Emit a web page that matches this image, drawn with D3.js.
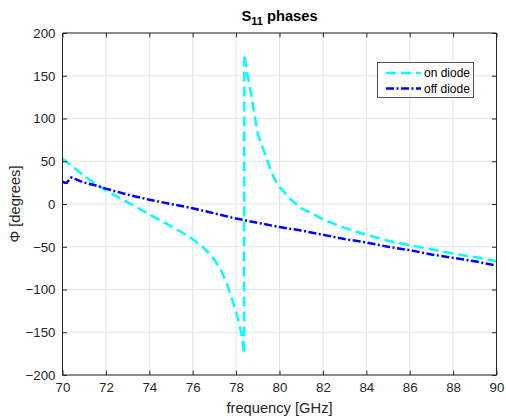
<!DOCTYPE html>
<html>
<head>
<meta charset="utf-8">
<script src="https://cdn.jsdelivr.net/npm/d3@7"></script>
<style>
  html, body { margin: 0; padding: 0; background: #ffffff; }
  svg { display: block; font-family: "Liberation Sans", Arial, sans-serif; }
</style>
</head>
<body>
<svg id="chart" width="506" height="420"></svg>
<script>
// ---- data ----
const freqOn  = [70, 70.5, 71, 71.5, 72, 72.5, 73, 73.5, 74, 74.5, 75, 75.5, 76, 76.5, 77, 77.3, 77.6, 77.9, 78.1, 78.25, 78.37,
                 78.38, 78.45, 78.55, 78.7, 78.85, 79.0, 79.2, 79.4, 79.6, 79.8, 80, 80.5, 81, 81.5, 82, 83, 84, 85, 86, 87, 88, 89, 90];
const phaseOn = [53, 43, 33, 24, 16, 9, 2, -5, -12, -19, -26, -33, -41, -51, -65, -77, -95, -118, -136, -152, -175,
                 175, 163, 148, 128, 104, 82, 68, 54, 39, 28, 20, 6, -5, -11, -18, -28, -36, -43, -48, -53, -58, -62, -67];
const freqOff  = [70, 70.1, 70.2, 70.3, 70.4, 70.6, 71, 71.5, 72, 73, 74, 75, 76, 77, 78, 79, 80, 81, 82, 83, 84, 85, 86, 87, 88, 89, 90];
const phaseOff = [26, 25, 25, 28, 31, 29, 25, 22, 18, 11, 5, 0, -5, -11, -17, -22, -27, -31, -36, -41, -45, -50, -54, -59, -63, -67, -72];
const xTicks = [70, 72, 74, 76, 78, 80, 82, 84, 86, 88, 90];
const yTicks = [-200, -150, -100, -50, 0, 50, 100, 150, 200];
const seriesNames = ["on diode", "off diode"];

// ---- layout ----
const svg = d3.select("#chart");
const L = 62.5, R = 496.5, T = 33, B = 375;
const x = d3.scaleLinear().domain([70, 90]).range([L, R]);
const y = d3.scaleLinear().domain([-200, 200]).range([B, T]);
const axisCol = "#262626", textCol = "#262626", gridCol = "#e3e3e3";

// grid
const g = svg.append("g");
g.selectAll("line.gx").data(xTicks).join("line")
  .attr("x1", d => x(d)).attr("x2", d => x(d)).attr("y1", T).attr("y2", B)
  .attr("stroke", gridCol).attr("stroke-width", 1);
g.selectAll("line.gy").data(yTicks).join("line")
  .attr("x1", L).attr("x2", R).attr("y1", d => y(d)).attr("y2", d => y(d))
  .attr("stroke", gridCol).attr("stroke-width", 1);

// clip
svg.append("clipPath").attr("id", "clip").append("rect")
  .attr("x", L).attr("y", T - 2).attr("width", R - L).attr("height", B - T + 4);

const line = d3.line().x(d => x(d[0])).y(d => y(d[1]));
const dataOn = freqOn.map((f, i) => [f, phaseOn[i]]);
const dataOff = freqOff.map((f, i) => [f, phaseOff[i]]);

const plot = svg.append("g").attr("clip-path", "url(#clip)");
plot.append("path").datum(dataOn).attr("d", line)
  .attr("fill", "none").attr("stroke", "#00ffff").attr("stroke-width", 2.5)
  .attr("stroke-dasharray", "10,5");
plot.append("path").datum(dataOff).attr("d", line)
  .attr("fill", "none").attr("stroke", "#0000ff").attr("stroke-width", 2.5)
  .attr("stroke-dasharray", "8,2.5,2,2.5");

// axes (MATLAB-like: ticks inward, box)
const tickLen = 4.5;
const xAxisB = d3.axisBottom(x).tickValues(xTicks).tickSize(-tickLen).tickPadding(8).tickFormat(d3.format("d"));
const xAxisT = d3.axisTop(x).tickValues(xTicks).tickSize(-tickLen).tickFormat("");
const yAxisL = d3.axisLeft(y).tickValues(yTicks).tickSize(-tickLen).tickPadding(7).tickFormat(d3.format("d"));
const yAxisR = d3.axisRight(y).tickValues(yTicks).tickSize(-tickLen).tickFormat("");

function style(sel) {
  sel.select(".domain").attr("stroke", axisCol).attr("stroke-width", 1);
  sel.selectAll(".tick line").attr("stroke", axisCol).attr("stroke-width", 1);
  sel.selectAll(".tick text").attr("fill", textCol).style("font-size", "13.3px")
     .style("font-family", "'Liberation Sans', Arial, sans-serif");
}
svg.append("g").attr("transform", `translate(0,${B})`).call(xAxisB).call(style)
  .call(s => s.select(".domain").attr("d", `M${L},0H${R}`));
svg.append("g").attr("transform", `translate(0,${T})`).call(xAxisT).call(style)
  .call(s => s.select(".domain").attr("d", `M${L},0H${R}`));
svg.append("g").attr("transform", `translate(${L},0)`).call(yAxisL).call(style)
  .call(s => s.select(".domain").attr("d", `M0,${T}V${B}`));
svg.append("g").attr("transform", `translate(${R},0)`).call(yAxisR).call(style)
  .call(s => s.select(".domain").attr("d", `M0,${T}V${B}`));

// labels
svg.append("text").attr("x", (L + R) / 2).attr("y", 413).attr("text-anchor", "middle")
  .attr("fill", textCol).style("font-size", "14.7px").text("frequency [GHz]");
svg.append("text").attr("transform", `translate(20,${(T + B) / 2}) rotate(-90)`)
  .attr("text-anchor", "middle").attr("fill", textCol).style("font-size", "14.7px")
  .text("Φ [degrees]");
const title = svg.append("text").attr("x", (L + R) / 2).attr("y", 21).attr("text-anchor", "middle")
  .attr("fill", "#000").style("font-size", "14.7px").style("font-weight", "bold");
title.append("tspan").text("S");
title.append("tspan").attr("dy", 4).style("font-size", "11px").text("11");
title.append("tspan").attr("dy", -4).text(" phases");

// legend
const lg = svg.append("g");
lg.append("rect").attr("x", 377.5).attr("y", 62.5).attr("width", 96).attr("height", 35)
  .attr("fill", "#fff").attr("stroke", axisCol).attr("stroke-width", 0.8);
const legItems = [
  { name: seriesNames[0], col: "#00ffff", dash: "10,5" },
  { name: seriesNames[1], col: "#0000ff", dash: "8,2.5,2,2.5" }
];
legItems.forEach((it, i) => {
  const yy = 73 + i * 15.5;
  lg.append("line").attr("x1", 386).attr("x2", 421).attr("y1", yy).attr("y2", yy)
    .attr("stroke", it.col).attr("stroke-width", 2.5).attr("stroke-dasharray", it.dash);
  lg.append("text").attr("x", 424).attr("y", yy + 4).attr("fill", "#000")
    .style("font-size", "12px").text(it.name);
});
</script>
</body>
</html>
